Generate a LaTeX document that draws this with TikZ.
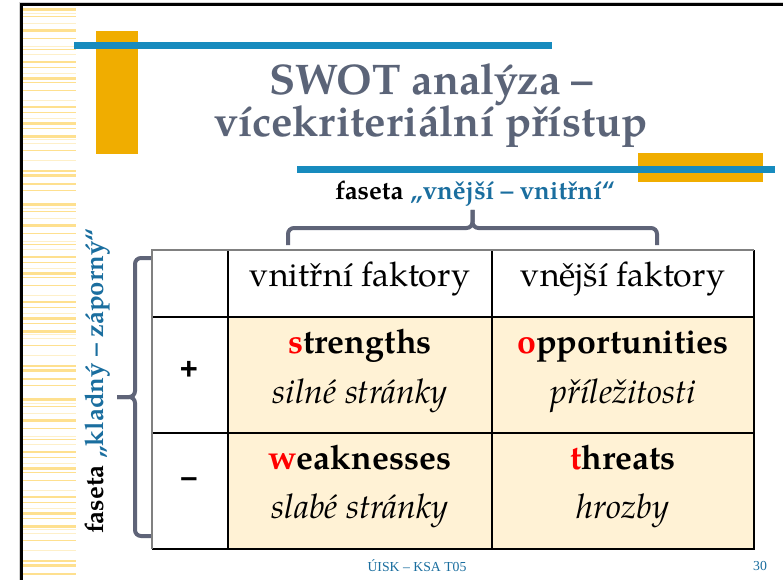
\documentclass[tikz,border=0pt]{standalone}
\usepackage{fontspec}
\setmainfont{texgyrepagella}[Extension=.otf, UprightFont=*-regular, BoldFont=*-bold, ItalicFont=*-italic, BoldItalicFont=*-bolditalic]
\newfontfamily\arialf{Liberation Sans}
\newfontfamily\timesf{Liberation Serif}
\definecolor{slate}{HTML}{5B6478}
\definecolor{barblue}{HTML}{178BBE}
\definecolor{orng}{HTML}{F0AD00}
\definecolor{txtblue}{HTML}{1A6E9F}
\definecolor{cream}{HTML}{FFF2D5}
\definecolor{stripeA}{HTML}{FEE08F}
\definecolor{stripeB}{HTML}{FEF0C9}
\definecolor{redl}{HTML}{FF0000}
\definecolor{bracec}{HTML}{5F6478}
\tikzset{
  titletext/.style={inner sep=0pt, anchor=base, text=slate, font=\fontsize{43}{50}\selectfont\bfseries},
  facet/.style={inner sep=0pt, anchor=base, font=\fontsize{25.8}{30}\selectfont\bfseries},
  celltext/.style={inner sep=0pt, anchor=base, font=\fontsize{34}{38}\selectfont},
  boldcell/.style={celltext, font=\fontsize{34}{38}\selectfont\bfseries},
  itcell/.style={celltext, font=\fontsize{34}{38}\selectfont\itshape},
  signtext/.style={inner sep=0pt, font=\fontsize{31}{34}\selectfont\arialf\bfseries},
  footer/.style={inner sep=0pt, text=txtblue, font=\fontsize{13.8}{16}\selectfont\timesf},
  bracestyle/.style={draw=bracec, line width=4bp, rounded corners=6bp},
  innerline/.style={black, line width=1.3bp},
  outergray/.style={gray, line width=2bp},
  outerblack/.style={black, line width=2bp}
}
\begin{document}
\begin{tikzpicture}[x=1bp,y=-1bp]
\useasboundingbox (0,0) rectangle (783,580);
\fill[white] (0,0) rectangle (783,580);
% left stripes
\begin{scope}
\clip (23,5) rectangle (76,580);
\foreach \o in {0,195,390}{
\foreach \yy/\hh/\cc in {8/3/stripeA,13/1/stripeB,16/1/stripeA,23/1/stripeB,29/3/stripeA,38/1/stripeA,46/1/stripeB,49/1/stripeA,54/1/stripeB,61/2/stripeA,67/1/stripeA,73/1/stripeB,77/3/stripeA,82/1/stripeA,90/1/stripeA,100/1/stripeB,106/2/stripeA,112/1/stripeA,118/1/stripeB,122/3/stripeA,128/1/stripeA,135/3/stripeA,139/1/stripeB,143/1/stripeB,150/1/stripeA,160/1/stripeB,170/2/stripeA,174/3/stripeA,183/2/stripeA,190/1/stripeA}{
  \fill[\cc] (23,\o+\yy) rectangle (76,\o+\yy+\hh);
}}
\end{scope}
% frame
\draw[gray!35, line width=1bp] (19.5,580) -- (19.5,3) -- (783,3);
\draw[black, line width=3bp] (21.5,580) -- (21.5,5) -- (783,5);
% decorative bars
\fill[orng] (96,31) rectangle (138,154);
\fill[barblue] (74,42) rectangle (552,49);
\fill[orng] (638,153) rectangle (763,182);
\fill[barblue] (297,166) rectangle (775,173);
% title
\node[titletext] (t1) at (431,95) {SWOT analýza –};
\node[titletext] (t2) at (431,137) {vícekriteriální přístup};
% facet labels
\node[facet] (fh) at (475,200) {faseta \textcolor{txtblue}{„vnější – vnitřní“}};
\node[facet, rotate=90] (fv) at (103,381) {faseta \textcolor{txtblue}{„kladný – záporný“}};
% braces
\draw[bracestyle] (288,245) -- (288,228) -- (472.5,228) -- (472.5,210);
\draw[bracestyle] (657,245) -- (657,228) -- (472.5,228) -- (472.5,210);
\draw[bracestyle] (152,258) -- (135,258) -- (135,397) -- (117,397);
\draw[bracestyle] (152,536) -- (135,536) -- (135,397) -- (117,397);
% table
\fill[cream] (228,317) rectangle (754,549);
\draw[innerline] (152,317) -- (754,317);
\draw[innerline] (152,433) -- (754,433);
\draw[innerline] (228,250) -- (228,549);
\draw[innerline] (492,250) -- (492,549);
\draw[outerblack] (754,250) -- (754,549) -- (152,549);
\draw[outergray] (152,549) -- (152,250) -- (754,250);
% cell texts
\node[celltext] (h1) at (360,286) {vnitřní faktory};
\node[celltext] (h2) at (623,286) {vnější faktory};
\node[boldcell] (s1) at (360,353) {\textcolor{redl}{s}trengths};
\node[itcell] (s2) at (360,403) {silné stránky};
\node[boldcell] (o1) at (623,353) {\textcolor{redl}{o}pportunities};
\node[itcell] (o2) at (623,403) {příležitosti};
\node[boldcell] (w1) at (360,469) {\textcolor{redl}{w}eaknesses};
\node[itcell] (w2) at (360,518) {slabé stránky};
\node[boldcell] (th1) at (623,469) {\textcolor{redl}{t}hreats};
\node[itcell] (th2) at (623,518) {hrozby};
\node[signtext] (plus) at (189,370) {+};
\node[signtext] (minus) at (189,483) {–};
% footer
\node[footer] (ft) at (417,566) {ÚISK – KSA T05};
\node[footer] (pg) at (760,566) {30};
\end{tikzpicture}
\end{document}
